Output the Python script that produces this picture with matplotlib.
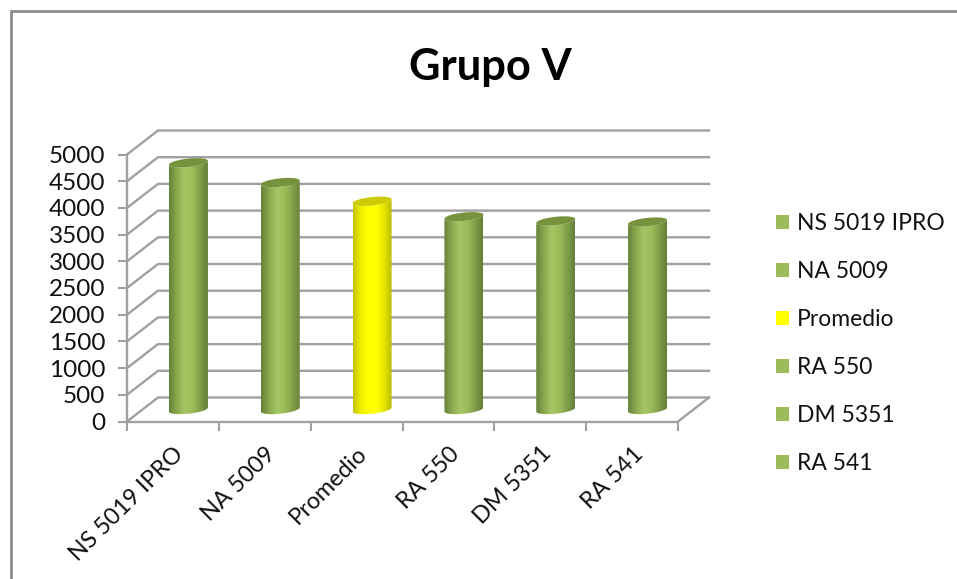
import numpy as np
import matplotlib
matplotlib.use("Agg")
import matplotlib.pyplot as plt
from matplotlib.colors import LinearSegmentedColormap
from matplotlib.lines import Line2D
from matplotlib.patches import Patch, PathPatch, Polygon
from matplotlib.path import Path

categories = ["NS 5019 IPRO", "NA 5009", "Promedio", "RA 550", "DM 5351", "RA 541"]
yields = [4620, 4250, 3900, 3610, 3530, 3510]
y_ticks = [0, 500, 1000, 1500, 2000, 2500, 3000, 3500, 4000, 4500, 5000]

green = ["#66823a", "#8aa94d", "#a4c663", "#9cbc5a", "#82a04a", "#657f38"]
yellow = ["#c4c400", "#f0f000", "#ffff00", "#ffff00", "#e6e600", "#bcbc00"]
GREEN_TOP = "#76923c"
YELLOW_TOP = "#cccc00"
GRID = "#a0a0a0"
TEXT = "#111111"

plt.rcParams["font.family"] = ["Lato", "DejaVu Sans"]

W, H = 957, 579
fig = plt.figure(figsize=(W / 100, H / 100), dpi=100, facecolor="white")

# front plane and 3D depth, in pixels
x0, x1, y0, y5000 = 127, 678, 421.5, 154.5
depth_x, depth_y = 31, 24
ax = fig.add_axes([x0 / W, 1 - y0 / H, (x1 + depth_x - x0) / W, (y0 - y5000 + depth_y) / H])
ax.set_xlim(0, 6 * (x1 + depth_x - x0) / (x1 - x0))
ax.set_ylim(0, 5000 * (y0 - y5000 + depth_y) / (y0 - y5000))
px_x = 6 / (x1 - x0)
px_y = 5000 / (y0 - y5000)
dx, dy = depth_x * px_x, depth_y * px_y

# walls
for v in y_ticks:
    ax.plot([0, dx, 6 + dx], [v, v + dy, v + dy], color=GRID, lw=1.7, zorder=1,
            solid_joinstyle="miter", clip_on=False)
ax.plot([6, 6 + dx], [0, dy], color=GRID, lw=1.7, zorder=1, clip_on=False)

# cylinders stand in the middle of the floor depth
t = np.linspace(0, 2 * np.pi, 121)
a, b, k = 19.5, 4.2, 2.0
for i, v in enumerate(yields):
    is_mean = categories[i] == "Promedio"
    cx = i + 0.5 + dx / 2
    base = dy / 2
    top = base + v
    ex = a * np.cos(t) * px_x
    ey = (b * np.sin(t) + k * np.cos(t)) * px_y

    lower = t[60:121]  # left side round the bottom to the right side
    top_part = lower[::-1]
    xs = np.r_[cx + a * np.cos(lower) * px_x, cx + a * np.cos(top_part) * px_x]
    ys = np.r_[base + (b * np.sin(lower) + k * np.cos(lower)) * px_y,
               top + (b * np.sin(top_part) + k * np.cos(top_part)) * px_y]
    outline = PathPatch(Path(np.c_[xs, ys]), transform=ax.transData, fc="none", ec="none")
    ax.add_patch(outline)

    cmap = LinearSegmentedColormap.from_list("c", yellow if is_mean else green)
    im = ax.imshow(np.linspace(0, 1, 64)[None, :], cmap=cmap, aspect="auto", zorder=3,
                   extent=[cx - a * px_x, cx + a * px_x, 0, top + dy])
    im.set_clip_path(outline)
    ax.add_patch(Polygon(np.c_[cx + ex, top + ey], fc=YELLOW_TOP if is_mean else GREEN_TOP,
                         ec="none", zorder=4))

ax.set_xlim(0, 6 * (x1 + depth_x - x0) / (x1 - x0))
ax.set_ylim(0, 5000 * (y0 - y5000 + depth_y) / (y0 - y5000))

for s in ["top", "right"]:
    ax.spines[s].set_visible(False)
ax.spines["left"].set_bounds(0, 5000)
ax.spines["bottom"].set_bounds(0, 6)
for s in ["left", "bottom"]:
    ax.spines[s].set_color(GRID)
    ax.spines[s].set_linewidth(1.7)
ax.patch.set_alpha(0)

ax.set_yticks(y_ticks)
ax.set_xticks(range(7))
ax.set_xticklabels([])
ax.set_xticks(np.arange(6) + 0.5, minor=True)
ax.set_xticklabels(categories, minor=True, rotation=45, ha="right", va="top",
                   rotation_mode="anchor", fontsize=16.8, color=TEXT)
ax.tick_params(axis="x", which="major", length=6.5, width=1.5, color=GRID)
ax.tick_params(axis="x", which="minor", length=0, pad=15.5)
ax.tick_params(axis="y", length=6.5, width=1.5, color=GRID, pad=9,
               labelsize=17.5, labelcolor=TEXT)

fig.text(490 / W, 1 - 67 / H, "Grupo V", ha="center", va="center", fontsize=31.3,
         fontweight="bold", color="black")

handles = [Patch(fc="#ffff00" if c == "Promedio" else "#9bbb59", ec="none") for c in categories]
fig.legend(handles, categories, loc="center left", bbox_to_anchor=(776 / W, 1 - 343.5 / H),
           frameon=False, fontsize=16.5, labelspacing=1.18, handlelength=0.57, handleheight=0.57,
           handletextpad=0.33, labelcolor=TEXT, borderpad=0, borderaxespad=0)

# chart border, only top and left show in the crop
fig.add_artist(Line2D([10.5 / W, 10.5 / W, 1], [0, 1 - 11 / H, 1 - 11 / H], color="#8c8c8c", lw=2,
                      solid_joinstyle="miter"))

fig.savefig("out.png", dpi=100)
